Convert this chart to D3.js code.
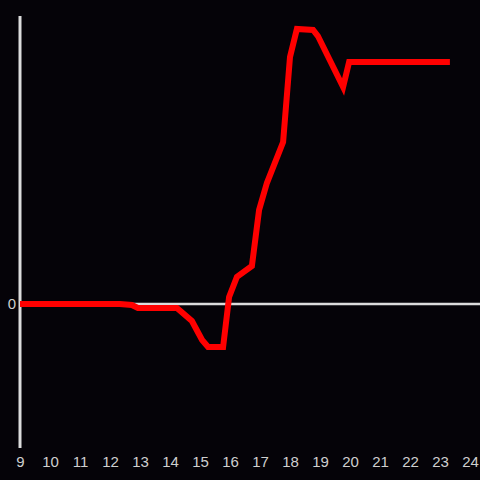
<!DOCTYPE html>
<html>
<head>
<meta charset="utf-8">
<script src="https://cdn.jsdelivr.net/npm/d3@7"></script>
<style>
  html, body { margin: 0; padding: 0; background: #050308; }
  svg { display: block; }
</style>
</head>
<body>
<svg id="chart"></svg>
<script>
// hour of day and value (arbitrary units, 0 = baseline)
const hours = [9, 12.33, 12.73, 12.93, 14.23, 14.73, 15.07, 15.27, 15.77, 15.97,
  16.23, 16.73, 16.97, 17.23, 17.77, 18.0, 18.23, 18.77, 18.93, 19.77, 19.97, 23.33];
const values = [0, 0, -0.007, -0.028, -0.028, -0.118, -0.25, -0.299, -0.299, 0.049,
  0.188, 0.264, 0.653, 0.84, 1.125, 1.715, 1.91, 1.903, 1.861, 1.507, 1.681, 1.681];
const xTickValues = d3.range(9, 25);
const yTickValues = [0];

const totalWidth = 480;
const totalHeight = 480;
const FONT = '"Liberation Sans", Arial, sans-serif';

const svg = d3.select('#chart')
  .attr('width', totalWidth)
  .attr('height', totalHeight);

svg.append('rect')
  .attr('width', totalWidth)
  .attr('height', totalHeight)
  .attr('fill', '#050308');

const xScale = d3.scaleLinear([9, 24], [20, 470]);
const yScale = d3.scaleLinear([-1, 2], [448, 16]);

/* zero line */
svg.append('line')
  .attr('x1', xScale(9))
  .attr('x2', totalWidth)
  .attr('y1', yScale(0))
  .attr('y2', yScale(0))
  .attr('stroke', '#dcdcdc')
  .attr('stroke-width', 2.5);

/* left axis line */
svg.append('line')
  .attr('x1', xScale(9))
  .attr('x2', xScale(9))
  .attr('y1', yScale(2))
  .attr('y2', yScale(-1))
  .attr('stroke', '#dcdcdc')
  .attr('stroke-width', 3);

/* bottom labels (no axis line, just text) */
const bottomAxis = d3.axisBottom(xScale).tickValues(xTickValues).tickSize(0).tickPadding(0);
svg.append('g')
  .attr('transform', `translate(0, ${yScale(-1)})`)
  .call(bottomAxis)
  .call((g) => g.select('.domain').remove())
  .selectAll('text')
  .attr('y', 19)
  .attr('dy', null)
  .attr('fill', '#cfcfcf')
  .style('font-family', FONT)
  .style('font-size', '15px');

/* left labels */
const leftAxis = d3.axisLeft(yScale)
  .tickValues(yTickValues)
  .tickFormat(d3.format('d'))
  .tickSize(0)
  .tickPadding(4);
svg.append('g')
  .attr('transform', `translate(${xScale(9)}, 0)`)
  .call(leftAxis)
  .call((g) => g.select('.domain').remove())
  .selectAll('text')
  .attr('fill', '#cfcfcf')
  .style('font-family', FONT)
  .style('font-size', '15px');

/* data line */
const points = hours.map((h, i) => ({ h: h, v: values[i] }));
svg.append('path')
  .attr('fill', 'none')
  .attr('stroke', '#ff0000')
  .attr('stroke-width', 6)
  .attr('stroke-linejoin', 'miter')
  .attr('d', d3.line()
    .x(function (d) { return xScale(d.h); })
    .y(function (d) { return yScale(d.v); })(points));
</script>
</body>
</html>
